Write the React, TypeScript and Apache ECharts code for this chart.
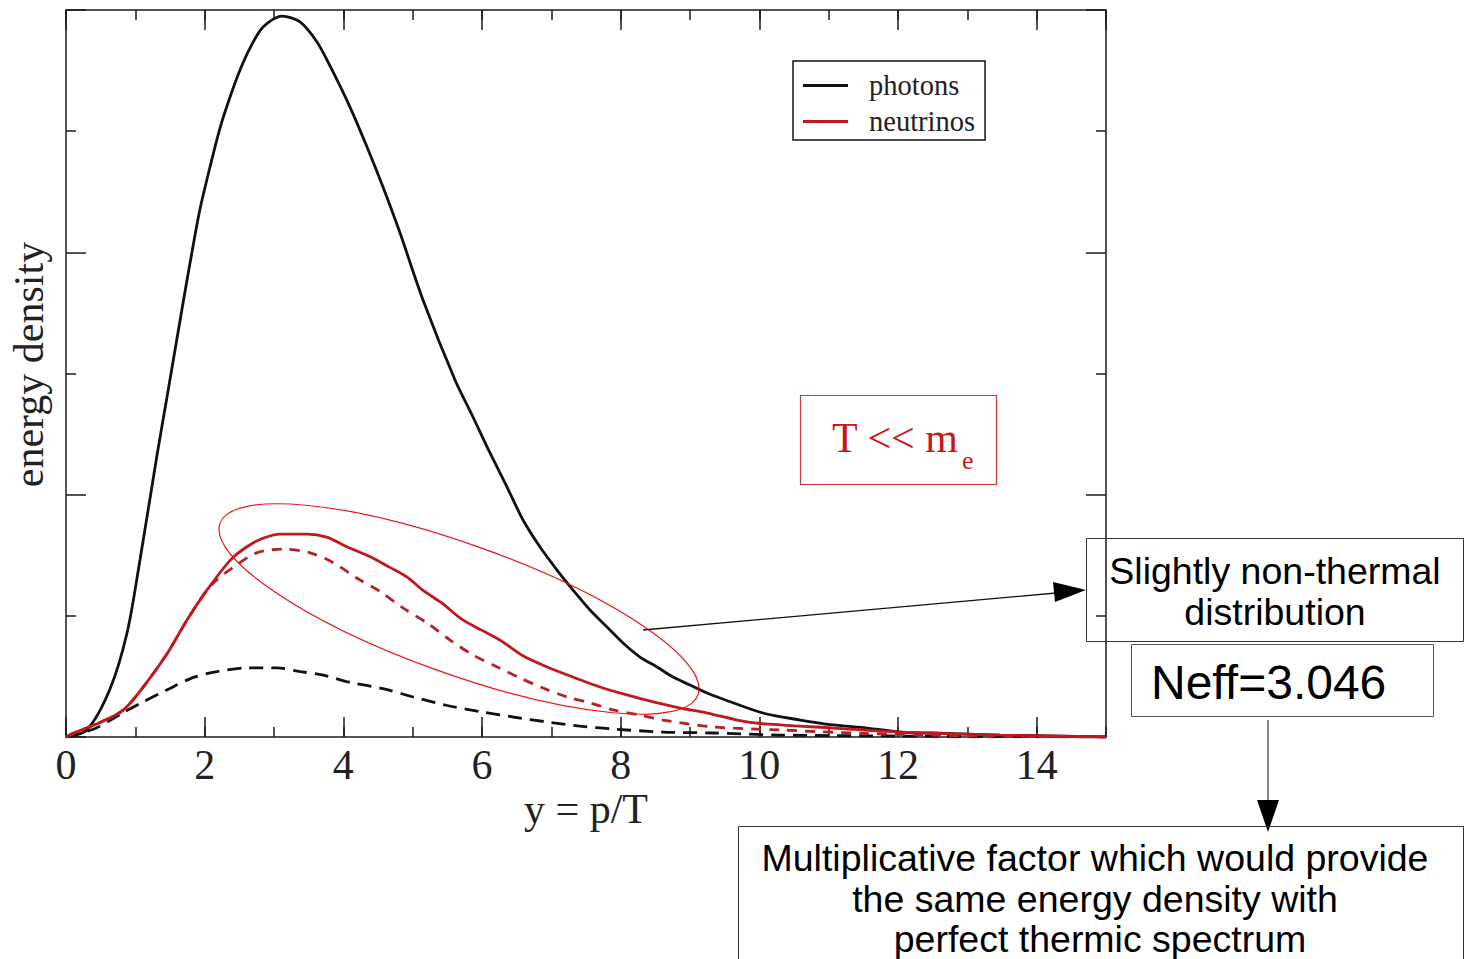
import React, { useEffect, useRef } from 'react';
import * as echarts from 'echarts';

// ---- data ----
const photonsX = [0, 0.30, 0.63, 0.88, 1.067, 1.313, 1.457, 1.688, 1.817, 1.933, 2.077, 2.221, 2.366, 2.510, 2.654, 2.842, 3.116, 3.375, 3.620, 3.808, 4.096, 4.342, 4.572, 4.818, 5.149, 5.611, 5.870, 6.116, 6.361, 6.592, 6.837, 7.082, 7.313, 7.558, 7.803, 8.034, 8.279, 8.524, 8.755, 9.000, 9.246, 9.433, 10.05, 10.59, 11.06, 11.55, 12.03, 12.5, 13.47, 15];
const photonsY = [0, 0.058, 0.39, 0.858, 1.461, 2.327, 2.806, 3.582, 4.003, 4.358, 4.704, 5.026, 5.282, 5.505, 5.686, 5.860, 5.950, 5.901, 5.736, 5.538, 5.199, 4.869, 4.539, 4.159, 3.607, 2.946, 2.641, 2.344, 2.063, 1.791, 1.568, 1.378, 1.213, 1.048, 0.908, 0.776, 0.660, 0.578, 0.495, 0.429, 0.363, 0.322, 0.198, 0.14, 0.10, 0.074, 0.041, 0.033, 0.016, 0];

const neutrinosX = [0, 0.10, 0.49, 0.82, 1.11, 1.46, 1.75, 2.03, 2.37, 2.61, 2.84, 3.09, 3.48, 3.76, 4.05, 4.38, 4.67, 4.92, 5.15, 5.42, 5.70, 6.00, 6.26, 6.59, 6.94, 7.31, 7.70, 8.09, 8.47, 8.86, 9.25, 9.82, 10.30, 11.06, 12.03, 13.47, 15];
const neutrinosY = [0, 0.03, 0.12, 0.22, 0.41, 0.69, 0.97, 1.21, 1.46, 1.57, 1.64, 1.675, 1.675, 1.65, 1.57, 1.49, 1.40, 1.32, 1.21, 1.106, 0.975, 0.88, 0.80, 0.67, 0.578, 0.495, 0.413, 0.347, 0.289, 0.239, 0.198, 0.124, 0.10, 0.074, 0.04, 0.016, 0];

const neutrinosDashedX = [0, 0.10, 0.49, 0.82, 1.11, 1.46, 1.75, 2.03, 2.18, 2.41, 2.75, 3.13, 3.52, 3.85, 4.20, 4.53, 4.86, 5.21, 5.54, 5.87, 6.22, 6.55, 6.88, 7.23, 7.56, 7.89, 8.28, 8.61, 9.33, 10.30, 11.5, 13.0, 15];
const neutrinosDashedY = [0, 0.03, 0.12, 0.22, 0.41, 0.69, 0.97, 1.21, 1.30, 1.40, 1.52, 1.55, 1.52, 1.44, 1.31, 1.20, 1.065, 0.94, 0.80, 0.677, 0.578, 0.487, 0.404, 0.330, 0.281, 0.223, 0.182, 0.14, 0.083, 0.058, 0.03, 0.01, 0];

const photonsDashedX = [0, 0.42, 0.82, 1.11, 1.46, 1.83, 2.18, 2.61, 3.04, 3.38, 3.71, 4.10, 4.57, 5.01, 5.50, 5.97, 6.45, 6.94, 7.41, 7.89, 8.61, 9.33, 10.30, 12.03, 15];
const photonsDashedY = [0, 0.07, 0.20, 0.29, 0.39, 0.49, 0.54, 0.57, 0.57, 0.54, 0.51, 0.45, 0.40, 0.33, 0.26, 0.21, 0.165, 0.124, 0.09, 0.066, 0.041, 0.033, 0.016, 0.008, 0];

const legendNames = ['photons', 'neutrinos'];
const xAxisName = 'y = p/T';
const yAxisName = 'energy density';
const xRange = [0, 15];
const yRange = [0, 6];

const zip = (xs: number[], ys: number[]) => xs.map((x, i) => [x, ys[i]]);

const SERIF = '"Liberation Serif", "Times New Roman", serif';
const SANS = '"Liberation Sans", Arial, sans-serif';
const AX = '#1a1a1a';
const RED = '#c0181e';

function makeXAxis(position: string, interval: number, tickLen: number, showLine: boolean, withLabels: boolean) {
  return {
    type: 'value',
    position,
    min: xRange[0],
    max: xRange[1],
    interval,
    name: withLabels ? xAxisName : '',
    nameLocation: 'middle',
    nameGap: 54,
    nameMoveOverlap: false,
    nameTextStyle: { fontFamily: SERIF, fontSize: 42, lineHeight: 36, color: '#222' },
    axisLine: { show: showLine, onZero: false, lineStyle: { color: AX, width: 1.5 } },
    axisTick: { show: true, inside: true, length: tickLen, lineStyle: { color: AX, width: 1.5 } },
    axisLabel: { show: withLabels, margin: 11, fontFamily: SERIF, fontSize: 42, lineHeight: 34, color: '#222', showMaxLabel: false },
    splitLine: { show: false },
  };
}

function makeYAxis(position: string, withName: boolean) {
  return {
    type: 'value',
    position,
    min: yRange[0],
    max: yRange[1],
    interval: 2,
    name: withName ? yAxisName : '',
    nameLocation: 'middle',
    nameRotate: 90,
    nameGap: 16,
    nameTextStyle: { fontFamily: SERIF, fontSize: 42, color: '#222', padding: [0, 0, 0, 18] },
    axisLine: { show: true, onZero: false, lineStyle: { color: AX, width: 1.5 } },
    axisTick: { show: true, inside: true, length: 20, lineStyle: { color: AX, width: 1.5 } },
    minorTick: { show: true, splitNumber: 2, length: 10, lineStyle: { color: AX, width: 1.5 } },
    axisLabel: { show: false },
    splitLine: { show: false },
    minorSplitLine: { show: false },
  };
}

export default function App() {
  const ref = useRef<HTMLDivElement>(null);

  useEffect(() => {
    if (!ref.current) return;
    const chart = echarts.init(ref.current, null, { renderer: 'svg' });
    const line = {
      type: 'line',
      xAxisIndex: 0,
      yAxisIndex: 0,
      showSymbol: false,
      symbol: 'none',
      smooth: 0.3,
    };
    chart.setOption({
      animation: false,
      backgroundColor: '#ffffff',
      grid: { left: 66, top: 10, right: 359, bottom: 222, containLabel: false },
      legend: {
        data: legendNames,
        orient: 'vertical',
        left: 793,
        top: 61,
        padding: [10, 10, 4, 10],
        itemGap: 7,
        itemWidth: 45,
        itemHeight: 3,
        icon: 'rect',
        selectedMode: false,
        borderColor: '#111',
        borderWidth: 1.5,
        textStyle: { fontFamily: SERIF, fontSize: 28.5, color: '#222', padding: [0, 0, 0, 16] },
      },
      xAxis: [
        makeXAxis('bottom', 2, 20, true, true),
        makeXAxis('bottom', 1, 10, false, false),
        makeXAxis('top', 2, 20, true, false),
        makeXAxis('top', 1, 10, false, false),
      ],
      yAxis: [makeYAxis('left', true), makeYAxis('right', false)],
      series: [
        { ...line, name: 'photons', color: '#111', lineStyle: { color: '#111', width: 2.8 }, data: zip(photonsX, photonsY), z: 3 },
        { ...line, name: 'photons (dashed)', color: '#111', lineStyle: { color: '#111', width: 2.8, type: [14, 8] }, data: zip(photonsDashedX, photonsDashedY), z: 3 },
        { ...line, name: 'neutrinos (dashed)', color: '#b32228', lineStyle: { color: '#b32228', width: 2.8, type: [10, 8] }, data: zip(neutrinosDashedX, neutrinosDashedY), z: 4 },
        { ...line, name: 'neutrinos', color: RED, lineStyle: { color: RED, width: 2.8 }, data: zip(neutrinosX, neutrinosY), z: 5 },
      ],
      graphic: [
        // T << m_e box
        { type: 'rect', shape: { x: 800.5, y: 395.5, width: 196, height: 89 }, style: { fill: 'none', stroke: '#c83a3a', lineWidth: 1.2 }, z: 50 },
        { type: 'text', x: 832, y: 438, style: { text: 'T << m', font: `42px ${SERIF}`, fill: '#c8161c', align: 'left', verticalAlign: 'middle' }, z: 50 },
        { type: 'text', x: 962, y: 460, style: { text: 'e', font: `26px ${SERIF}`, fill: '#c8161c', align: 'left', verticalAlign: 'middle' }, z: 50 },
        // ellipse around neutrino curves
        { type: 'ellipse', x: 459, y: 609, rotation: -0.344, shape: { cx: 0, cy: 0, rx: 254, ry: 65 }, style: { fill: 'none', stroke: '#e81414', lineWidth: 1.2 }, z: 60 },
        // arrow to first box
        { type: 'line', shape: { x1: 643, y1: 630, x2: 1056, y2: 593 }, style: { stroke: '#111', lineWidth: 1.3 }, z: 60 },
        { type: 'polygon', shape: { points: [[1086, 590], [1053, 582], [1055, 602]] }, style: { fill: '#000' }, z: 60 },
        // box 1
        { type: 'rect', shape: { x: 1086.5, y: 538.5, width: 377, height: 103 }, style: { fill: 'none', stroke: '#333', lineWidth: 1 }, z: 60 },
        { type: 'text', x: 1275, y: 571, style: { text: 'Slightly non-thermal', font: `37.5px ${SANS}`, fill: '#000', align: 'center', verticalAlign: 'middle' }, z: 60 },
        { type: 'text', x: 1275, y: 612, style: { text: 'distribution', font: `37.5px ${SANS}`, fill: '#000', align: 'center', verticalAlign: 'middle' }, z: 60 },
        // Neff box
        { type: 'rect', shape: { x: 1131.5, y: 644.5, width: 302, height: 72 }, style: { fill: 'none', stroke: '#555', lineWidth: 1 }, z: 60 },
        { type: 'text', x: 1151, y: 682, style: { text: 'Neff=3.046', font: `48px ${SANS}`, fill: '#000', align: 'left', verticalAlign: 'middle' }, z: 60 },
        // vertical arrow
        { type: 'line', shape: { x1: 1268, y1: 720, x2: 1268, y2: 802 }, style: { stroke: '#333', lineWidth: 1.2 }, z: 60 },
        { type: 'polygon', shape: { points: [[1257, 800], [1279, 800], [1268, 832]] }, style: { fill: '#000' }, z: 60 },
        // bottom box
        { type: 'rect', shape: { x: 738.5, y: 826.5, width: 725, height: 150 }, style: { fill: 'none', stroke: '#333', lineWidth: 1 }, z: 60 },
        { type: 'text', x: 1095, y: 858, style: { text: 'Multiplicative factor which would provide', font: `37.5px ${SANS}`, fill: '#000', align: 'center', verticalAlign: 'middle' }, z: 60 },
        { type: 'text', x: 1095, y: 899, style: { text: 'the same energy density with', font: `37.5px ${SANS}`, fill: '#000', align: 'center', verticalAlign: 'middle' }, z: 60 },
        { type: 'text', x: 1100, y: 939, style: { text: 'perfect thermic spectrum', font: `37.5px ${SANS}`, fill: '#000', align: 'center', verticalAlign: 'middle' }, z: 60 },
      ],
    });
    return () => chart.dispose();
  }, []);

  return (
    <div
      ref={ref}
      style={{ position: 'absolute', left: 0, top: 0, width: 1465, height: 959, background: '#fff' }}
    />
  );
}
